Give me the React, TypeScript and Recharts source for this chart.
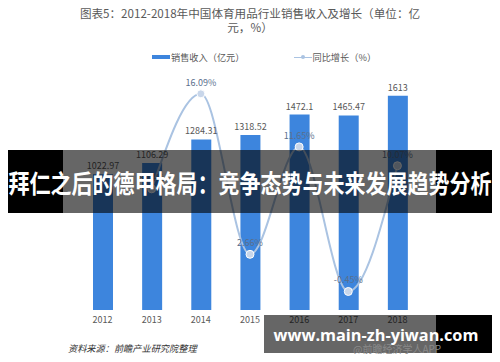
import React from "react";
import {
  ComposedChart,
  Bar,
  Line,
  XAxis,
  YAxis,
  LabelList,
} from "recharts";

// 2012-2018 sales revenue (100 million yuan) and YoY growth (%)
const years = ["2012", "2013", "2014", "2015", "2016", "2017", "2018"];
const revenue = [1022.97, 1106.29, 1284.31, 1318.52, 1472.1, 1465.47, 1613];
const growth: (number | null)[] = [null, 8.14, 16.09, 2.66, 11.65, -0.45, 10.07];

const data = years.map((year, i) => ({
  year,
  revenue: revenue[i],
  growth: growth[i],
}));

const FONT = '"Noto Sans CJK SC", "Noto Sans", sans-serif';
const BAR_COLOR = "#3d85dd";
const LINE_COLOR = "#aac3e2";

const App: React.FC = () => {
  return (
    <div
      style={{
        position: "relative",
        width: 500,
        height: 362,
        margin: -8,
        background: "#fff",
        fontFamily: FONT,
        overflow: "hidden",
      }}
    >
      {/* title */}
      <div
        style={{
          position: "absolute",
          top: 6,
          left: 0,
          width: 500,
          textAlign: "center",
          fontSize: 11.6,
          lineHeight: "14px",
          color: "#595959",
        }}
      >
        图表5：2012-2018年中国体育用品行业销售收入及增长（单位：亿
        <br />
        元，%）
      </div>

      {/* legend */}
      <div
        style={{
          position: "absolute",
          top: 50,
          left: 152,
          fontSize: 9.2,
          color: "#595959",
          display: "flex",
          alignItems: "center",
          height: 14,
        }}
      >
        <span style={{ width: 18, height: 4, background: BAR_COLOR, display: "inline-block" }} />
        <span style={{ marginLeft: 1 }}>销售收入（亿元）</span>
        <span
          style={{
            marginLeft: 49,
            width: 18,
            height: 1,
            background: LINE_COLOR,
            display: "inline-block",
            position: "relative",
          }}
        >
          <span
            style={{
              position: "absolute",
              left: 7,
              top: -1.5,
              width: 4,
              height: 4,
              borderRadius: 2,
              background: LINE_COLOR,
            }}
          />
        </span>
        <span style={{ marginLeft: 1 }}>同比增长（%）</span>
      </div>

      <div style={{ position: "absolute", left: 0, top: 0 }}>
        <ComposedChart
          width={500}
          height={362}
          data={data}
          margin={{ top: 71, right: 78, bottom: 22, left: 78 }}
        >
          <XAxis
            dataKey="year"
            axisLine={false}
            tickLine={false}
            tickSize={5}
            height={30}
            tick={{ fill: "#595959", fontSize: 9, fontFamily: FONT }}
          />
          <YAxis yAxisId="left" hide domain={[0, 1800]} />
          <YAxis yAxisId="right" hide orientation="right" domain={[-2, 18]} />
          <Bar
            yAxisId="left"
            dataKey="revenue"
            fill={BAR_COLOR}
            barSize={20}
            isAnimationActive={false}
          >
            <LabelList
              dataKey="revenue"
              position="top"
              offset={5}
              fill="#595959"
              fontSize={9}
              fontFamily={FONT}
            />
          </Bar>
          <Line
            yAxisId="right"
            type="monotone"
            dataKey="growth"
            stroke={LINE_COLOR}
            strokeWidth={2}
            dot={{ r: 4, fill: "#c8d6ea", stroke: "#fff", strokeWidth: 1 }}
            isAnimationActive={false}
          >
            <LabelList
              dataKey="growth"
              position="top"
              offset={8}
              fill="#5a6f8c"
              fontSize={9}
              fontFamily={FONT}
              formatter={(v: any) => (v == null ? "" : `${v.toFixed(2)}%`)}
            />
          </Line>
        </ComposedChart>
      </div>

      {/* source note */}
      <div
        style={{
          position: "absolute",
          top: 341,
          left: 68,
          fontSize: 9.2,
          fontStyle: "italic",
          color: "#333",
        }}
      >
        资料来源：前瞻产业研究院整理
      </div>

      {/* overlay headline banner */}
      <div style={{ position: "absolute", top: 150, left: 8, width: 55, height: 63, background: "#000" }} />
      <div style={{ position: "absolute", top: 150, left: 63, width: 373, height: 63, background: "rgba(0,0,0,0.6)" }} />
      <div style={{ position: "absolute", top: 150, left: 436, width: 56, height: 63, background: "#000" }} />
      <div
        style={{
          position: "absolute",
          top: 168,
          left: 8,
          width: 484,
          textAlign: "center",
          color: "#fff",
          fontSize: 21,
          fontWeight: 700,
          lineHeight: "28px",
          whiteSpace: "nowrap",
          transform: "scaleY(1.2)",
        }}
      >
        拜仁之后的德甲格局：竞争态势与未来发展趋势分析
      </div>

      {/* bottom url banner */}
      <div style={{ position: "absolute", top: 315, left: 264, width: 172, height: 38, background: "rgba(0,0,0,0.6)" }} />
      <div style={{ position: "absolute", top: 315, left: 436, width: 56, height: 38, background: "#000" }} />
      <div
        style={{
          position: "absolute",
          top: 341,
          left: 353,
          fontSize: 10,
          color: "#8a8a8a",
          whiteSpace: "nowrap",
        }}
      >
        @前瞻经济学人APP
      </div>
      <div
        style={{
          position: "absolute",
          top: 323,
          left: 266,
          width: 220,
          textAlign: "center",
          color: "#fff",
          fontSize: 16.3,
          fontWeight: 700,
          lineHeight: "24px",
          whiteSpace: "nowrap",
          fontFamily: '"Open Sans", "Noto Sans", sans-serif',
        }}
      >
        www.main-zh-yiwan.com
      </div>
    </div>
  );
};

export default App;
